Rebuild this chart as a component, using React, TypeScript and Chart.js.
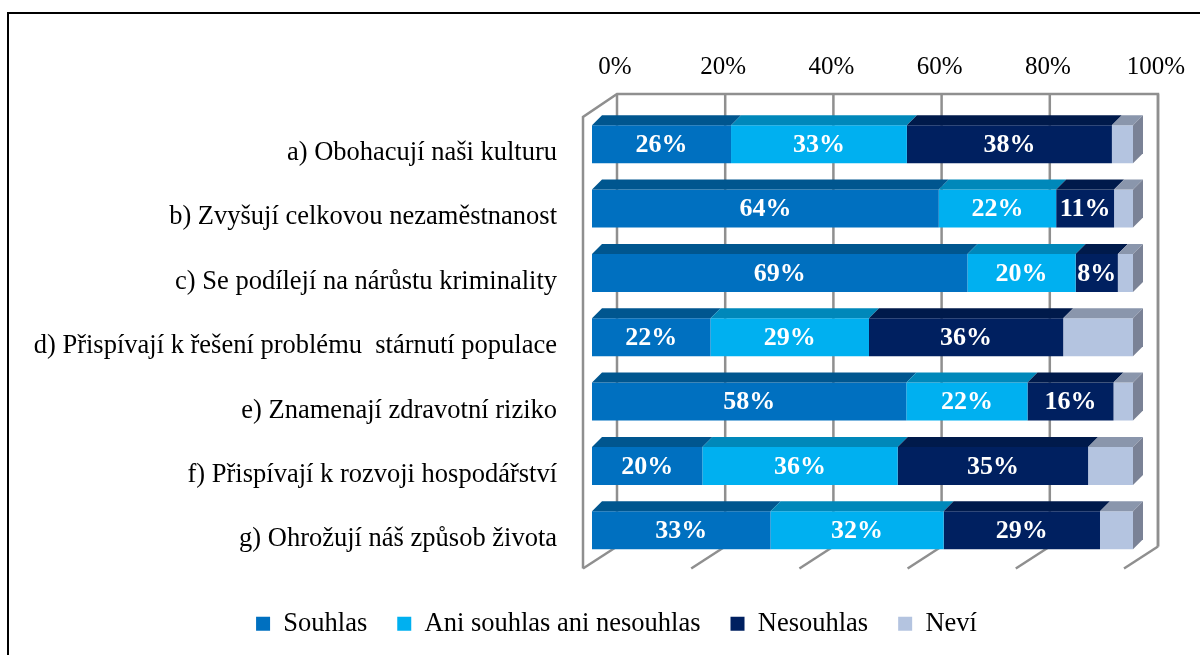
import React, { useEffect, useRef } from 'react';
import { Chart, registerables } from 'chart.js';

Chart.register(...registerables);

const categories = [
  'a) Obohacují naši kulturu',
  'b) Zvyšují celkovou nezaměstnanost',
  'c) Se podílejí na nárůstu kriminality',
  'd) Přispívají k řešení problému  stárnutí populace',
  'e) Znamenají zdravotní riziko',
  'f) Přispívají k rozvoji hospodářství',
  'g) Ohrožují náš způsob života',
];

const seriesNames = ['Souhlas', 'Ani souhlas ani nesouhlas', 'Nesouhlas', 'Neví'];

const souhlas = [25.7, 64.1, 69.4, 21.9, 58.1, 20.4, 33.0];
const aniSouhlas = [32.5, 21.7, 20.0, 29.3, 22.4, 36.1, 32.0];
const nesouhlas = [37.9, 10.7, 7.8, 35.9, 15.9, 35.2, 28.9];
const nevi = [3.9, 3.5, 2.8, 12.9, 3.6, 8.3, 6.1];

const xTickValues = [0, 20, 40, 60, 80, 100];

const frontColors = ['#0070C0', '#00B0F0', '#002060', '#B4C4E0'];
const topColors = ['#00568F', '#0088BA', '#001A4B', '#8A96AC'];
const sideColor = '#7A8296';
const wallColor = '#8F8F8F';
const FONT = "'Liberation Serif', 'Times New Roman', serif";

const frame3D = {
  id: 'frame3D',
  beforeDraw(chart: any) {
    const ctx = chart.ctx;
    ctx.save();
    ctx.fillStyle = '#000000';
    ctx.fillRect(7, 12, 1193, 2);
    ctx.fillRect(7, 12, 2, 700);
    ctx.restore();
  },
  beforeDatasetsDraw(chart: any) {
    const ctx = chart.ctx;
    const xs = chart.scales.x;
    const ca = chart.chartArea;
    const backDx = 25;
    const backTop = ca.top - 18;
    const backBottom = ca.bottom - 16;
    const wallDx = -34;
    const wallDy = 22;
    const x0 = xs.getPixelForValue(0) + backDx;
    const x100 = xs.getPixelForValue(100) + backDx;
    ctx.save();
    ctx.strokeStyle = wallColor;
    ctx.lineWidth = 2.5;
    ctx.lineCap = 'butt';
    ctx.lineJoin = 'miter';
    const line = (a: number, b: number, c: number, d: number) => {
      ctx.beginPath();
      ctx.moveTo(a, b);
      ctx.lineTo(c, d);
      ctx.stroke();
    };
    ctx.beginPath();
    ctx.moveTo(x0 + wallDx, backBottom + wallDy);
    ctx.lineTo(x0 + wallDx, backTop + wallDy + 1);
    ctx.lineTo(x0, backTop);
    ctx.lineTo(x100, backTop);
    ctx.lineTo(x100, backBottom);
    ctx.stroke();
    xTickValues.forEach((v) => {
      const xg = xs.getPixelForValue(v) + backDx;
      line(xg, backTop, xg, backBottom);
      line(xg, backBottom, xg + wallDx, backBottom + wallDy);
    });
    ctx.restore();
  },
  afterDatasetsDraw(chart: any) {
    const ctx = chart.ctx;
    const depth = 10;
    ctx.save();
    const nSets = chart.data.datasets.length;
    for (let d = 0; d < nSets; d++) {
      const meta = chart.getDatasetMeta(d);
      meta.data.forEach((el: any) => {
        const left = Math.min(el.x, el.base);
        const right = Math.max(el.x, el.base);
        const top = el.y - el.height / 2;
        const bottom = el.y + el.height / 2;
        ctx.fillStyle = topColors[d];
        ctx.beginPath();
        ctx.moveTo(left, top);
        ctx.lineTo(right, top);
        ctx.lineTo(right + depth, top - depth);
        ctx.lineTo(left + depth, top - depth);
        ctx.closePath();
        ctx.fill();
        if (d === nSets - 1) {
          ctx.fillStyle = sideColor;
          ctx.beginPath();
          ctx.moveTo(right, top);
          ctx.lineTo(right + depth, top - depth);
          ctx.lineTo(right + depth, bottom - depth);
          ctx.lineTo(right, bottom);
          ctx.closePath();
          ctx.fill();
        }
      });
    }
    ctx.fillStyle = '#FFFFFF';
    ctx.font = `bold 26px ${FONT}`;
    ctx.textAlign = 'center';
    ctx.textBaseline = 'middle';
    for (let d = 0; d < 3; d++) {
      const meta = chart.getDatasetMeta(d);
      const values = chart.data.datasets[d].data;
      meta.data.forEach((el: any, i: number) => {
        const cx = (el.x + el.base) / 2;
        ctx.fillText(Math.round(values[i]) + '%', cx, el.y + 1);
      });
    }
    ctx.restore();
  },
  afterLayout(chart: any) {
    if (chart.legend) {
      chart.legend.top += 18;
      chart.legend.bottom += 18;
      chart.legend.left += 40;
      chart.legend.right += 40;
    }
  },
};

export default function App() {
  const ref = useRef<HTMLCanvasElement | null>(null);

  useEffect(() => {
    if (!ref.current) return;
    const seriesValues = [souhlas, aniSouhlas, nesouhlas, nevi];
    const chart = new Chart(ref.current, {
      type: 'bar',
      data: {
        labels: categories,
        datasets: seriesNames.map((name, i) => ({
          label: name,
          data: seriesValues[i],
          backgroundColor: frontColors[i],
          borderWidth: 0,
          categoryPercentage: 1,
          barPercentage: 0.59,
        })),
      },
      options: {
        indexAxis: 'y',
        responsive: false,
        animation: false,
        layout: { padding: { left: 20, right: 67, top: 0, bottom: 26 } },
        scales: {
          x: {
            type: 'linear',
            position: 'top',
            stacked: true,
            min: 0,
            max: 100,
            afterFit: (s: any) => {
              s.height = 112;
            },
            grid: { display: false, drawTicks: false },
            border: { display: false },
            afterBuildTicks: (s: any) => {
              s.ticks = xTickValues.map((v) => ({ value: v }));
            },
            ticks: {
              stepSize: 20,
              padding: 30,
              labelOffset: 23,
              maxRotation: 0,
              autoSkip: false,
              color: '#000000',
              font: { family: FONT, size: 25 },
              callback: (v: any) => v + '%',
            },
          },
          y: {
            type: 'category',
            stacked: true,
            afterFit: (s: any) => {
              s.width = 572;
            },
            grid: { display: false, drawTicks: false },
            border: { display: false },
            ticks: {
              padding: 35,
              labelOffset: 9,
              color: '#000000',
              autoSkip: false,
              font: { family: FONT, size: 26.5 },
            },
          },
        },
        plugins: {
          tooltip: { enabled: false },
          legend: {
            display: true,
            position: 'bottom',
            labels: {
              boxWidth: 14,
              boxHeight: 14,
              padding: 30,
              color: '#000000',
              font: { family: FONT, size: 26.5 },
            },
          },
        },
      },
      plugins: [frame3D],
    });
    return () => chart.destroy();
  }, []);

  return (
    <div style={{ position: 'fixed', left: 0, top: 0, width: 1200, height: 655, background: '#FFFFFF' }}>
      <canvas ref={ref} width={1200} height={655} style={{ display: 'block' }} />
    </div>
  );
}
